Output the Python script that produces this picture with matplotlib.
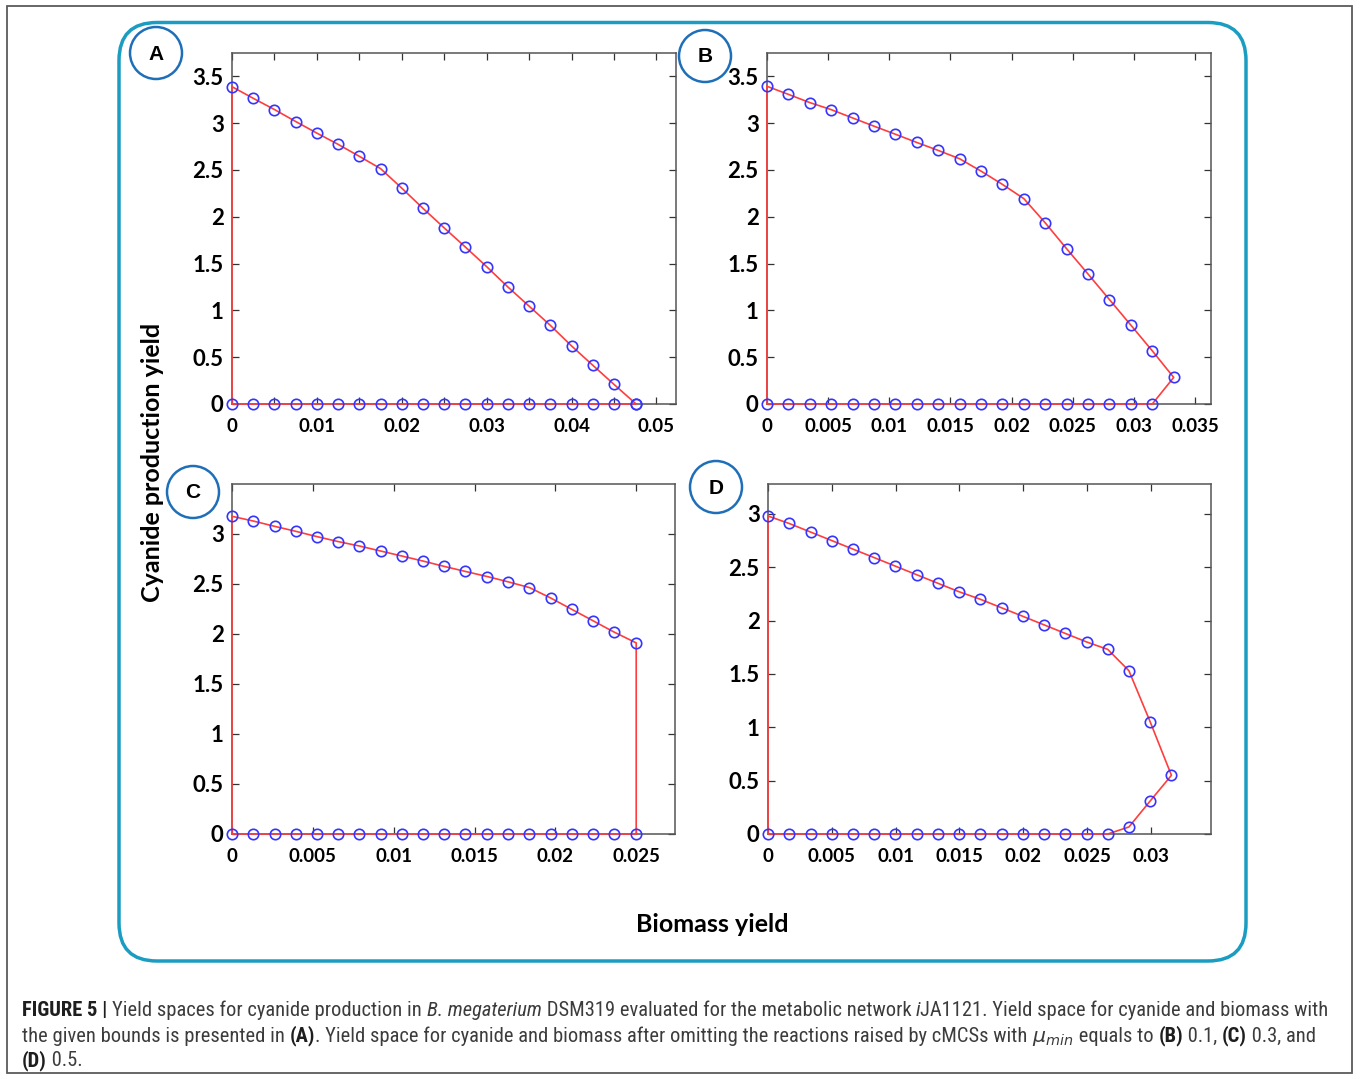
import numpy as np
import matplotlib
matplotlib.use('Agg')
import matplotlib.pyplot as plt
from matplotlib import font_manager as fm
from matplotlib.patches import Circle, FancyBboxPatch, Rectangle

# ---- data ----
# panel A
a_x = [0, 0.0025, 0.005, 0.0075, 0.01, 0.0125, 0.015, 0.0175, 0.02, 0.0225,
       0.025, 0.0275, 0.03, 0.0325, 0.035, 0.0375, 0.04, 0.0425, 0.045, 0.0476]
a_top = [3.39, 3.266, 3.146, 3.018, 2.894, 2.774, 2.646, 2.515, 2.306, 2.09,
         1.881, 1.676, 1.467, 1.25, 1.045, 0.84, 0.62, 0.414, 0.209, 0.0]
a_bot_x = a_x
a_bot = [0.0] * 20

# panel B
b_x = [0, 0.00175, 0.0035, 0.00525, 0.007, 0.00875, 0.0105, 0.01225, 0.014, 0.01575,
       0.0175, 0.01925, 0.021, 0.02275, 0.0245, 0.02625, 0.028, 0.02975, 0.0315, 0.03325]
b_top = [3.394, 3.308, 3.22, 3.145, 3.056, 2.968, 2.882, 2.794, 2.709, 2.62,
         2.488, 2.346, 2.194, 1.935, 1.658, 1.388, 1.115, 0.842, 0.568, 0.284]
b_bot_x = b_x[:19]
b_bot = [0.0] * 19

# panel C
c_x = [0, 0.00131, 0.00263, 0.00394, 0.00525, 0.00657, 0.00788, 0.00919, 0.0105, 0.0118,
       0.0131, 0.0144, 0.0158, 0.0171, 0.0184, 0.0197, 0.021, 0.0223, 0.0236, 0.025]
c_top = [3.177, 3.13, 3.077, 3.027, 2.974, 2.924, 2.88, 2.83, 2.78, 2.73,
         2.677, 2.627, 2.574, 2.521, 2.464, 2.361, 2.248, 2.135, 2.022, 1.911]
c_bot_x = c_x
c_bot = [0.0] * 20

# panel D
d_x = [0, 0.00166, 0.00333, 0.00499, 0.00665, 0.00832, 0.00998, 0.01164, 0.0133, 0.01497,
       0.01663, 0.01829, 0.01996, 0.02162, 0.02328, 0.02495, 0.02661, 0.02827, 0.02994, 0.0316]
d_top = [2.98, 2.91, 2.83, 2.75, 2.67, 2.59, 2.51, 2.43, 2.35, 2.27,
         2.2, 2.12, 2.04, 1.96, 1.88, 1.8, 1.73, 1.53, 1.05, 0.55]
d_bot_x = d_x[:19]
d_bot = [0.0] * 17 + [0.066, 0.31]

a_xticks = [0, 0.005, 0.01, 0.015, 0.02, 0.025, 0.03, 0.035, 0.04, 0.045, 0.05]
a_xlabels = ['0', '', '0.01', '', '0.02', '', '0.03', '', '0.04', '', '0.05']
b_xticks = [0, 0.005, 0.01, 0.015, 0.02, 0.025, 0.03, 0.035]
b_xlabels = ['0', '0.005', '0.01', '0.015', '0.02', '0.025', '0.03', '0.035']
c_xticks = [0, 0.005, 0.01, 0.015, 0.02, 0.025]
c_xlabels = ['0', '0.005', '0.01', '0.015', '0.02', '0.025']
d_xticks = [0, 0.005, 0.01, 0.015, 0.02, 0.025, 0.03]
d_xlabels = ['0', '0.005', '0.01', '0.015', '0.02', '0.025', '0.03']
ab_yticks = [0, 0.5, 1, 1.5, 2, 2.5, 3, 3.5]
ab_ylabels = ['0', '0.5', '1', '1.5', '2', '2.5', '3', '3.5']
cd_yticks = [0, 0.5, 1, 1.5, 2, 2.5, 3]
cd_ylabels = ['0', '0.5', '1', '1.5', '2', '2.5', '3']

W, H = 1360, 1079
fig = plt.figure(figsize=(W / 100, H / 100), dpi=100)
fig.patch.set_facecolor('white')

def px_axes(l, t, r, b):
    return fig.add_axes([l / W, 1 - b / H, (r - l) / W, (b - t) / H])

panels = [
    # box, x, top, bot_x, bot, xlim, ylim, xticks, xlabels, yticks, ylabels
    ((232, 53, 676, 404), a_x, a_top, a_bot_x, a_bot, 0.0523, 3.75, a_xticks, a_xlabels, ab_yticks, ab_ylabels),
    ((767, 53, 1211, 404), b_x, b_top, b_bot_x, b_bot, 0.0363, 3.75, b_xticks, b_xlabels, ab_yticks, ab_ylabels),
    ((232, 484, 675, 834), c_x, c_top, c_bot_x, c_bot, 0.0274, 3.5, c_xticks, c_xlabels, cd_yticks, cd_ylabels),
    ((768, 484, 1211, 834), d_x, d_top, d_bot_x, d_bot, 0.0347, 3.28, d_xticks, d_xlabels, cd_yticks, cd_ylabels),
]

xtick_font = dict(family='Lato', weight='bold', size=13.5)
ytick_font = dict(family='Lato', weight='bold', size=16)

for box, x, top, bx, by, xmax, ymax, xt, xl, yt, yl in panels:
    ax = px_axes(*box)
    # closed boundary: top branch left->right, bottom branch right->left, back to start
    px = list(x) + list(bx)[::-1] + [x[0]]
    py = list(top) + list(by)[::-1] + [top[0]]
    ax.plot(px, py, color='#ff3d3d', lw=1.2, zorder=3, clip_on=False)
    ax.plot(x, top, ls='none', marker='o', ms=7.5, mfc='none', mec='#3535ff', mew=1.2,
            zorder=4, clip_on=False)
    ax.plot(bx, by, ls='none', marker='o', ms=7.5, mfc='none', mec='#3535ff', mew=1.2,
            zorder=4, clip_on=False)
    ax.set_xlim(0, xmax)
    ax.set_ylim(0, ymax)
    ax.set_xticks(xt)
    ax.set_xticklabels(xl, fontdict=xtick_font)
    ax.set_yticks(yt)
    ax.set_yticklabels(yl, fontdict=ytick_font)
    ax.tick_params(direction='in', length=5, width=0.9, color='#333333',
                   top=True, right=True, labelcolor='black')
    ax.tick_params(axis='x', pad=10)
    ax.tick_params(axis='y', pad=6)
    for s in ax.spines.values():
        s.set_color('#555555')
        s.set_linewidth(1.1)

# overlay in pixel coordinates
ov = fig.add_axes([0, 0, 1, 1])
ov.set_xlim(0, W)
ov.set_ylim(H, 0)
ov.axis('off')
ov.patch.set_alpha(0)

ov.add_patch(Rectangle((7, 6), 1345, 1067, fill=False, ec='#5a5a5a', lw=1.3))
ov.add_patch(FancyBboxPatch((119, 22.5), 1246 - 119, 961 - 22.5,
                            boxstyle='round,pad=0,rounding_size=38',
                            fill=False, ec='#1b9cc1', lw=2.5))

for lab, cx, cy in [('A', 156, 53), ('B', 705, 56), ('C', 193, 492), ('D', 716, 487)]:
    ov.add_patch(Circle((cx, cy), 26, fill=False, ec='#1f6fb8', lw=1.8))
    ov.text(cx, cy + 1, lab, ha='center', va='center', family='Liberation Sans',
            weight='bold', size=15, color='black')

ov.text(712, 932, 'Biomass yield', ha='center', va='baseline', family='Lato',
        weight='bold', size=18, color='black')
ov.text(152, 462, 'Cyanide production yield', ha='center', va='center', rotation=90,
        family='Lato', weight='bold', size=18, color='black')

# caption, drawn run by run, in a narrow font if one is installed
renderer = fig.canvas.get_renderer()
names = {(f.name, f.stretch) for f in fm.fontManager.ttflist}
cap_kw = dict(family='Liberation Sans')
for nm in ['Liberation Sans Narrow', 'Arial Narrow', 'Roboto Condensed', 'Open Sans Condensed']:
    if any(n == nm for n, _ in names):
        cap_kw = dict(family=nm)
        break
else:
    for nm in ['DejaVu Sans', 'Noto Sans', 'Open Sans']:
        if any(n == nm and 'cond' in str(st) for n, st in names):
            cap_kw = dict(family=nm, stretch='condensed')
            break
cap_col = '#3c3c3c'

def run_width(s, **kw):
    t1 = ov.text(0, 0, 'x' + s + 'x', **kw)
    t2 = ov.text(0, 0, 'xx', **kw)
    w = t1.get_window_extent(renderer).width - t2.get_window_extent(renderer).width
    t1.remove()
    t2.remove()
    return w

def style_kw(style, size):
    kw = dict(cap_kw, size=size, color=cap_col)
    if style == 'b':
        kw['weight'] = 'bold'
        kw['color'] = '#1e1e1e'
    elif style == 'i':
        kw['style'] = 'italic'
    return kw

def line_width(runs, size):
    return sum(run_width(s, **style_kw(st, size)) for s, st in runs)

def draw_line(runs, x0, y0, size):
    x = x0
    for s, st in runs:
        kw = style_kw(st, size)
        ov.text(x, y0, s, ha='left', va='baseline', **kw)
        x += run_width(s, **kw)

line1 = [('FIGURE 5 | ', 'b'), ('Yield spaces for cyanide production in ', 'n'),
         ('B. megaterium', 'i'), (' DSM319 evaluated for the metabolic network ', 'n'),
         ('i', 'i'), ('JA1121. Yield space for cyanide and biomass with', 'n')]
line2 = [('the given bounds is presented in ', 'n'), ('(A)', 'b'),
         ('. Yield space for cyanide and biomass after omitting the reactions raised by cMCSs with ', 'n'),
         (r'$\mu_{min}$', 'n'), (' equals to ', 'n'), ('(B)', 'b'), (' 0.1, ', 'n'),
         ('(C)', 'b'), (' 0.3, and', 'n')]
line3 = [('(D)', 'b'), (' 0.5.', 'n')]

# first caption line runs from x=22 to x=1330 in the reference
cap_size = 14 * 1308 / line_width(line1, 14)
cap_size = min(cap_size, 15)

draw_line(line1, 22, 1016.5, cap_size)
draw_line(line2, 22, 1041.5, cap_size)
draw_line(line3, 22, 1066, cap_size)

fig.savefig('out.png', dpi=100, facecolor='white')
